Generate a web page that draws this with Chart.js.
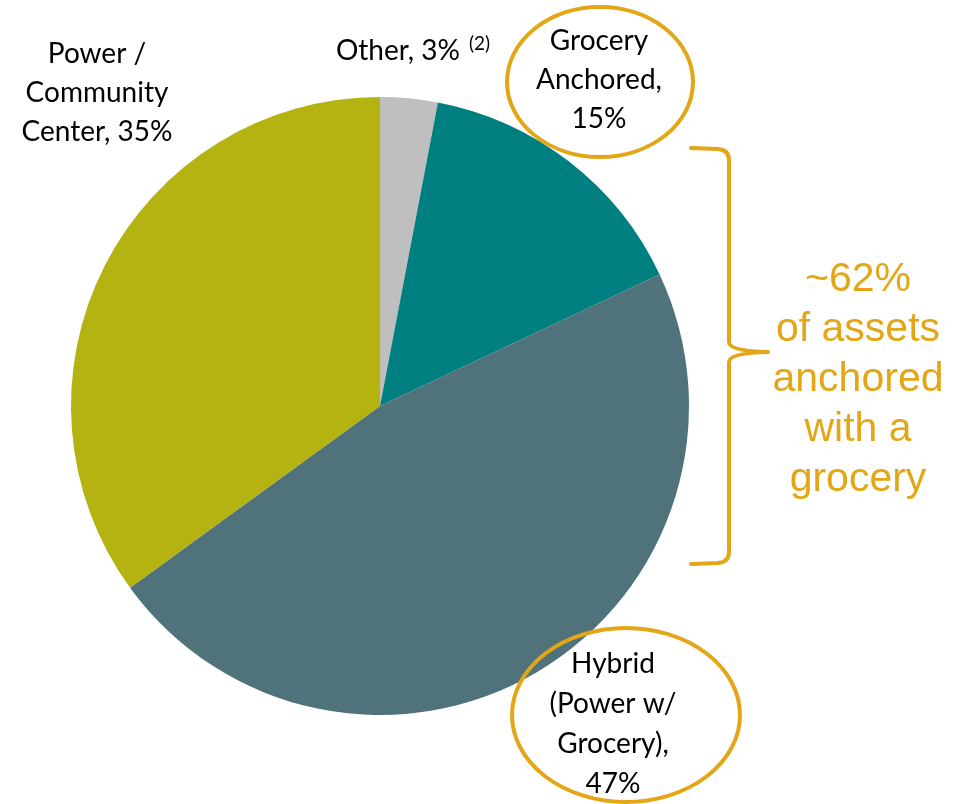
<!DOCTYPE html>
<html>
<head>
<meta charset="utf-8">
<script src="https://cdn.jsdelivr.net/npm/chart.js@4"></script>
<style>
  html, body { margin: 0; padding: 0; background: #fff; }
  #wrap { width: 961px; height: 804px; position: relative; }
</style>
</head>
<body>
<div id="wrap"><canvas id="grafico" width="961" height="804"></canvas></div>
<script>
// mix of assets by centre type, clockwise from 12 o'clock
var categories = ['Other', 'Grocery Anchored', 'Hybrid (Power w/ Grocery)', 'Power / Community Center'];
var shares = [3, 15, 47, 35];
var colores = ['#BFBFBF', '#007F80', '#50727B', '#B4B312'];
var calloutLines = ['of assets', 'anchored', 'with a', 'grocery'];

var gold = '#E3A617';
var labelFont = '28px Lato, "Open Sans", sans-serif';

// text lines for each slice label, built from the data
function sliceLines(i) {
	var v = shares[i] + '%';
	if (i === 0) return ['Other, ' + v];
	if (i === 1) return ['Grocery', 'Anchored,', v];
	if (i === 2) return ['Hybrid', '(Power w/', 'Grocery),', v];
	return ['Power /', 'Community', 'Center, ' + v];
}

var labelPos = [
	{ x: 398, y: 60, step: 39 },
	{ x: 599, y: 50, step: 39 },
	{ x: 613, y: 673, step: 40 },
	{ x: 97, y: 63, step: 39 }
];

var anotaciones = {
	id: 'anotaciones',
	afterDraw: function (chart) {
		var ctx = chart.ctx;
		ctx.save();

		// gold rings round the grocery slices
		ctx.strokeStyle = gold;
		ctx.lineWidth = 4;
		ctx.beginPath();
		ctx.ellipse(600, 82, 93, 75, 0, 0, Math.PI * 2);
		ctx.stroke();
		ctx.beginPath();
		ctx.ellipse(626, 715, 114, 87, 0, 0, Math.PI * 2);
		ctx.stroke();

		// labels
		ctx.fillStyle = '#000';
		ctx.font = labelFont;
		ctx.textAlign = 'center';
		ctx.textBaseline = 'alphabetic';
		for (var i = 0; i < shares.length; i++) {
			var p = labelPos[i];
			sliceLines(i).forEach(function (t, k) {
				ctx.fillText(t, p.x, p.y + k * p.step);
			});
		}
		ctx.font = '19px Lato, sans-serif';
		ctx.textAlign = 'left';
		ctx.fillText('(2)', 469, 50);

		// curly bracket
		ctx.strokeStyle = gold;
		ctx.lineWidth = 4;
		ctx.lineCap = 'round';
		ctx.lineJoin = 'round';
		ctx.beginPath();
		ctx.moveTo(691, 148);
		ctx.lineTo(718, 149);
		ctx.quadraticCurveTo(729, 150, 729, 160);
		ctx.lineTo(729, 342);
		ctx.quadraticCurveTo(729, 351, 768, 352);
		ctx.quadraticCurveTo(729, 353, 729, 362);
		ctx.lineTo(729, 552);
		ctx.quadraticCurveTo(729, 562, 718, 563);
		ctx.lineTo(691, 564);
		ctx.stroke();

		// callout text
		ctx.fillStyle = gold;
		ctx.textAlign = 'center';
		ctx.font = '41px "Liberation Sans", Arial, sans-serif';
		var lines = ['~' + (shares[1] + shares[2]) + '%'].concat(calloutLines);
		lines.forEach(function (t, k) {
			ctx.fillText(t, 858, 291 + k * 50);
		});
		ctx.restore();
	}
};

var contexto = document.getElementById('grafico').getContext('2d');
var grafico = new Chart(contexto, {
	type: 'pie',
	data: {
		labels: categories,
		datasets: [{
			data: shares,
			backgroundColor: colores,
			borderWidth: 0
		}]
	},
	options: {
		responsive: false,
		animation: false,
		layout: { padding: { left: 71, right: 272, top: 97, bottom: 89 } },
		plugins: {
			legend: { display: false },
			tooltip: { enabled: false }
		}
	},
	plugins: [anotaciones]
});
</script>
</body>
</html>
